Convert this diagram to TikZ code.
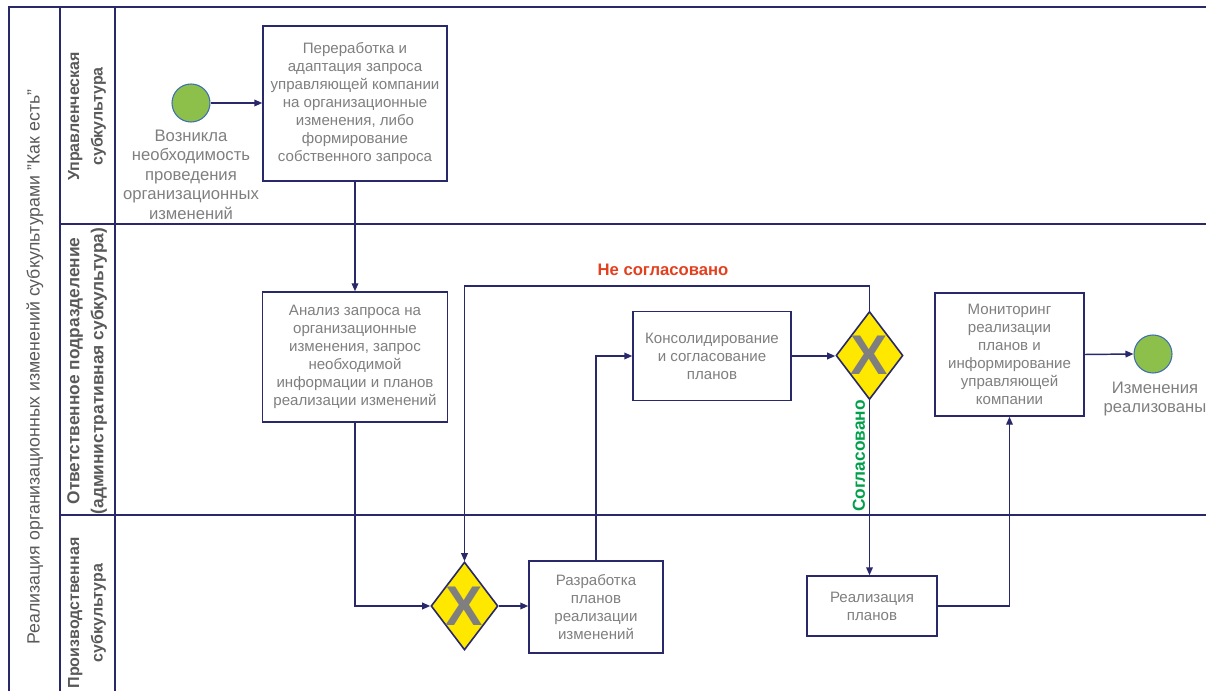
\documentclass[tikz,border=0pt]{standalone}
\usepackage{fontspec}
\setmainfont{Liberation Sans}
\usetikzlibrary{arrows.meta,shapes.geometric}
\definecolor{navy}{HTML}{28286A}
\definecolor{txtgray}{HTML}{7F7F7F}
\definecolor{lanegray}{HTML}{595959}
\definecolor{gateyellow}{HTML}{FFE800}
\definecolor{evgreen}{HTML}{8DC04A}
\definecolor{evblue}{HTML}{3F6FB0}
\definecolor{nored}{HTML}{E2401E}
\definecolor{yesgreen}{HTML}{00A04A}
\tikzset{
  pool/.style={draw=navy,line width=1.6pt},
  task/.style={draw=navy,line width=1.1pt,fill=white,rectangle,inner sep=0pt,align=center,
    text=txtgray,font=\fontsize{11.3}{13.5}\selectfont},
  gate/.style={draw=navy,line width=1.2pt,fill=gateyellow,diamond,inner sep=0pt,
    minimum width=50.25pt,minimum height=66pt},
  gatex/.style={text=txtgray,font=\fontsize{42}{42}\selectfont\bfseries,inner sep=0pt},
  event/.style={draw=evblue,line width=0.8pt,fill=evgreen,circle,minimum size=28.5pt,inner sep=0pt},
  evlabel/.style={text=txtgray,align=center,font=\fontsize{12.5}{14.6}\selectfont},
  conn/.style={draw=navy,line width=1.1pt,-{Triangle[length=6pt,width=5pt]}},
  lanelab/.style={rotate=90,align=center,text=lanegray},
}
\begin{document}
\begin{tikzpicture}[x=0.75pt,y=-0.75pt]
\useasboundingbox (0,0) rectangle (1206,691);
% pool and lanes
\draw[pool] (1206,7) -- (9,7) -- (9,691);
\draw[pool] (60,7) -- (60,691);
\draw[pool] (115,7) -- (115,691);
\draw[pool] (60,224) -- (1206,224);
\draw[pool] (60,515) -- (1206,515);
\node[rotate=90,text=lanegray,font=\fontsize{13.3}{15}\selectfont] (title) at (35,367)
  {Реализация организационных изменений субкультурами "Как есть"};
\node[lanelab,font=\fontsize{12}{17.5}\selectfont\bfseries] (l1) at (87,116.5) {Управленческая\\субкультура};
\node[lanelab,font=\fontsize{13}{18}\selectfont\bfseries] (l2) at (87,371) {Ответственное подразделение\\(административная субкультура)};
\node[lanelab,font=\fontsize{12}{17.5}\selectfont\bfseries] (l3) at (87,613) {Производственная\\субкультура};
% events
\node[event] (s1) at (191,103) {};
\node[evlabel,anchor=north] (s1l) at (191,125) {Возникла\\необходимость\\проведения\\организационных\\изменений};
\node[event] (e1) at (1153,354) {};
\node[evlabel,anchor=north] (e1l) at (1155,377) {Изменения\\реализованы};
% tasks
\node[task,minimum width=138pt,minimum height=116.25pt] (b1) at (355,103.5)
  {Переработка и\\адаптация запроса\\управляющей компании\\на организационные\\изменения, либо\\формирование\\собственного запроса};
\node[task,minimum width=138.75pt,minimum height=97.5pt] (b2) at (355,357)
  {Анализ запроса на\\организационные\\изменения, запрос\\необходимой\\информации и планов\\реализации изменений};
\node[task,minimum width=100.5pt,minimum height=69pt] (b3) at (596,607)
  {Разработка\\планов\\реализации\\изменений};
\node[task,minimum width=118.5pt,minimum height=66.75pt] (b4) at (712,356)
  {Консолидирование\\и согласование\\планов};
\node[task,minimum width=97.5pt,minimum height=45pt] (b5) at (872,606)
  {Реализация\\планов};
\node[task,minimum width=111.75pt,minimum height=92.25pt] (b6) at (1009.5,354.5)
  {Мониторинг\\реализации\\планов и\\информирование\\управляющей\\компании};
% gateways
\node[gate] (g1) at (464.5,606) {};
\node[gatex] (g1x) at (g1) {X};
\node[gate] (g2) at (869.5,355.5) {};
\node[gatex] (g2x) at (g2) {X};
% connectors
\draw[conn] (s1.east) -- (s1.east -| b1.west);
\draw[conn] (b1.south) -- (b2.north);
\draw[conn] (b2.south) |- (g1.west);
\draw[conn] (g1.east) -- (g1.east -| b3.west);
\draw[conn] (b3.north) |- (b4.west);
\draw[conn] (b4.east) -- (b4.east -| g2.west);
\coordinate (nc) at (869.5,286);
\draw[conn] (g2.north) -- (nc) -| (g1.north);
\node[text=nored,font=\fontsize{12.5}{14}\selectfont\bfseries] (nl) at (663,270) {Не согласовано};
\draw[conn] (g2.south) -- (g2.south |- b5.north);
\node[rotate=90,text=yesgreen,font=\fontsize{13}{14}\selectfont\bfseries] (yl) at (859,456) {Согласовано};
\draw[conn] (b5.east) -| (b6.south);
\draw[conn] (b6.east) -- (e1.west);
\end{tikzpicture}
\end{document}
